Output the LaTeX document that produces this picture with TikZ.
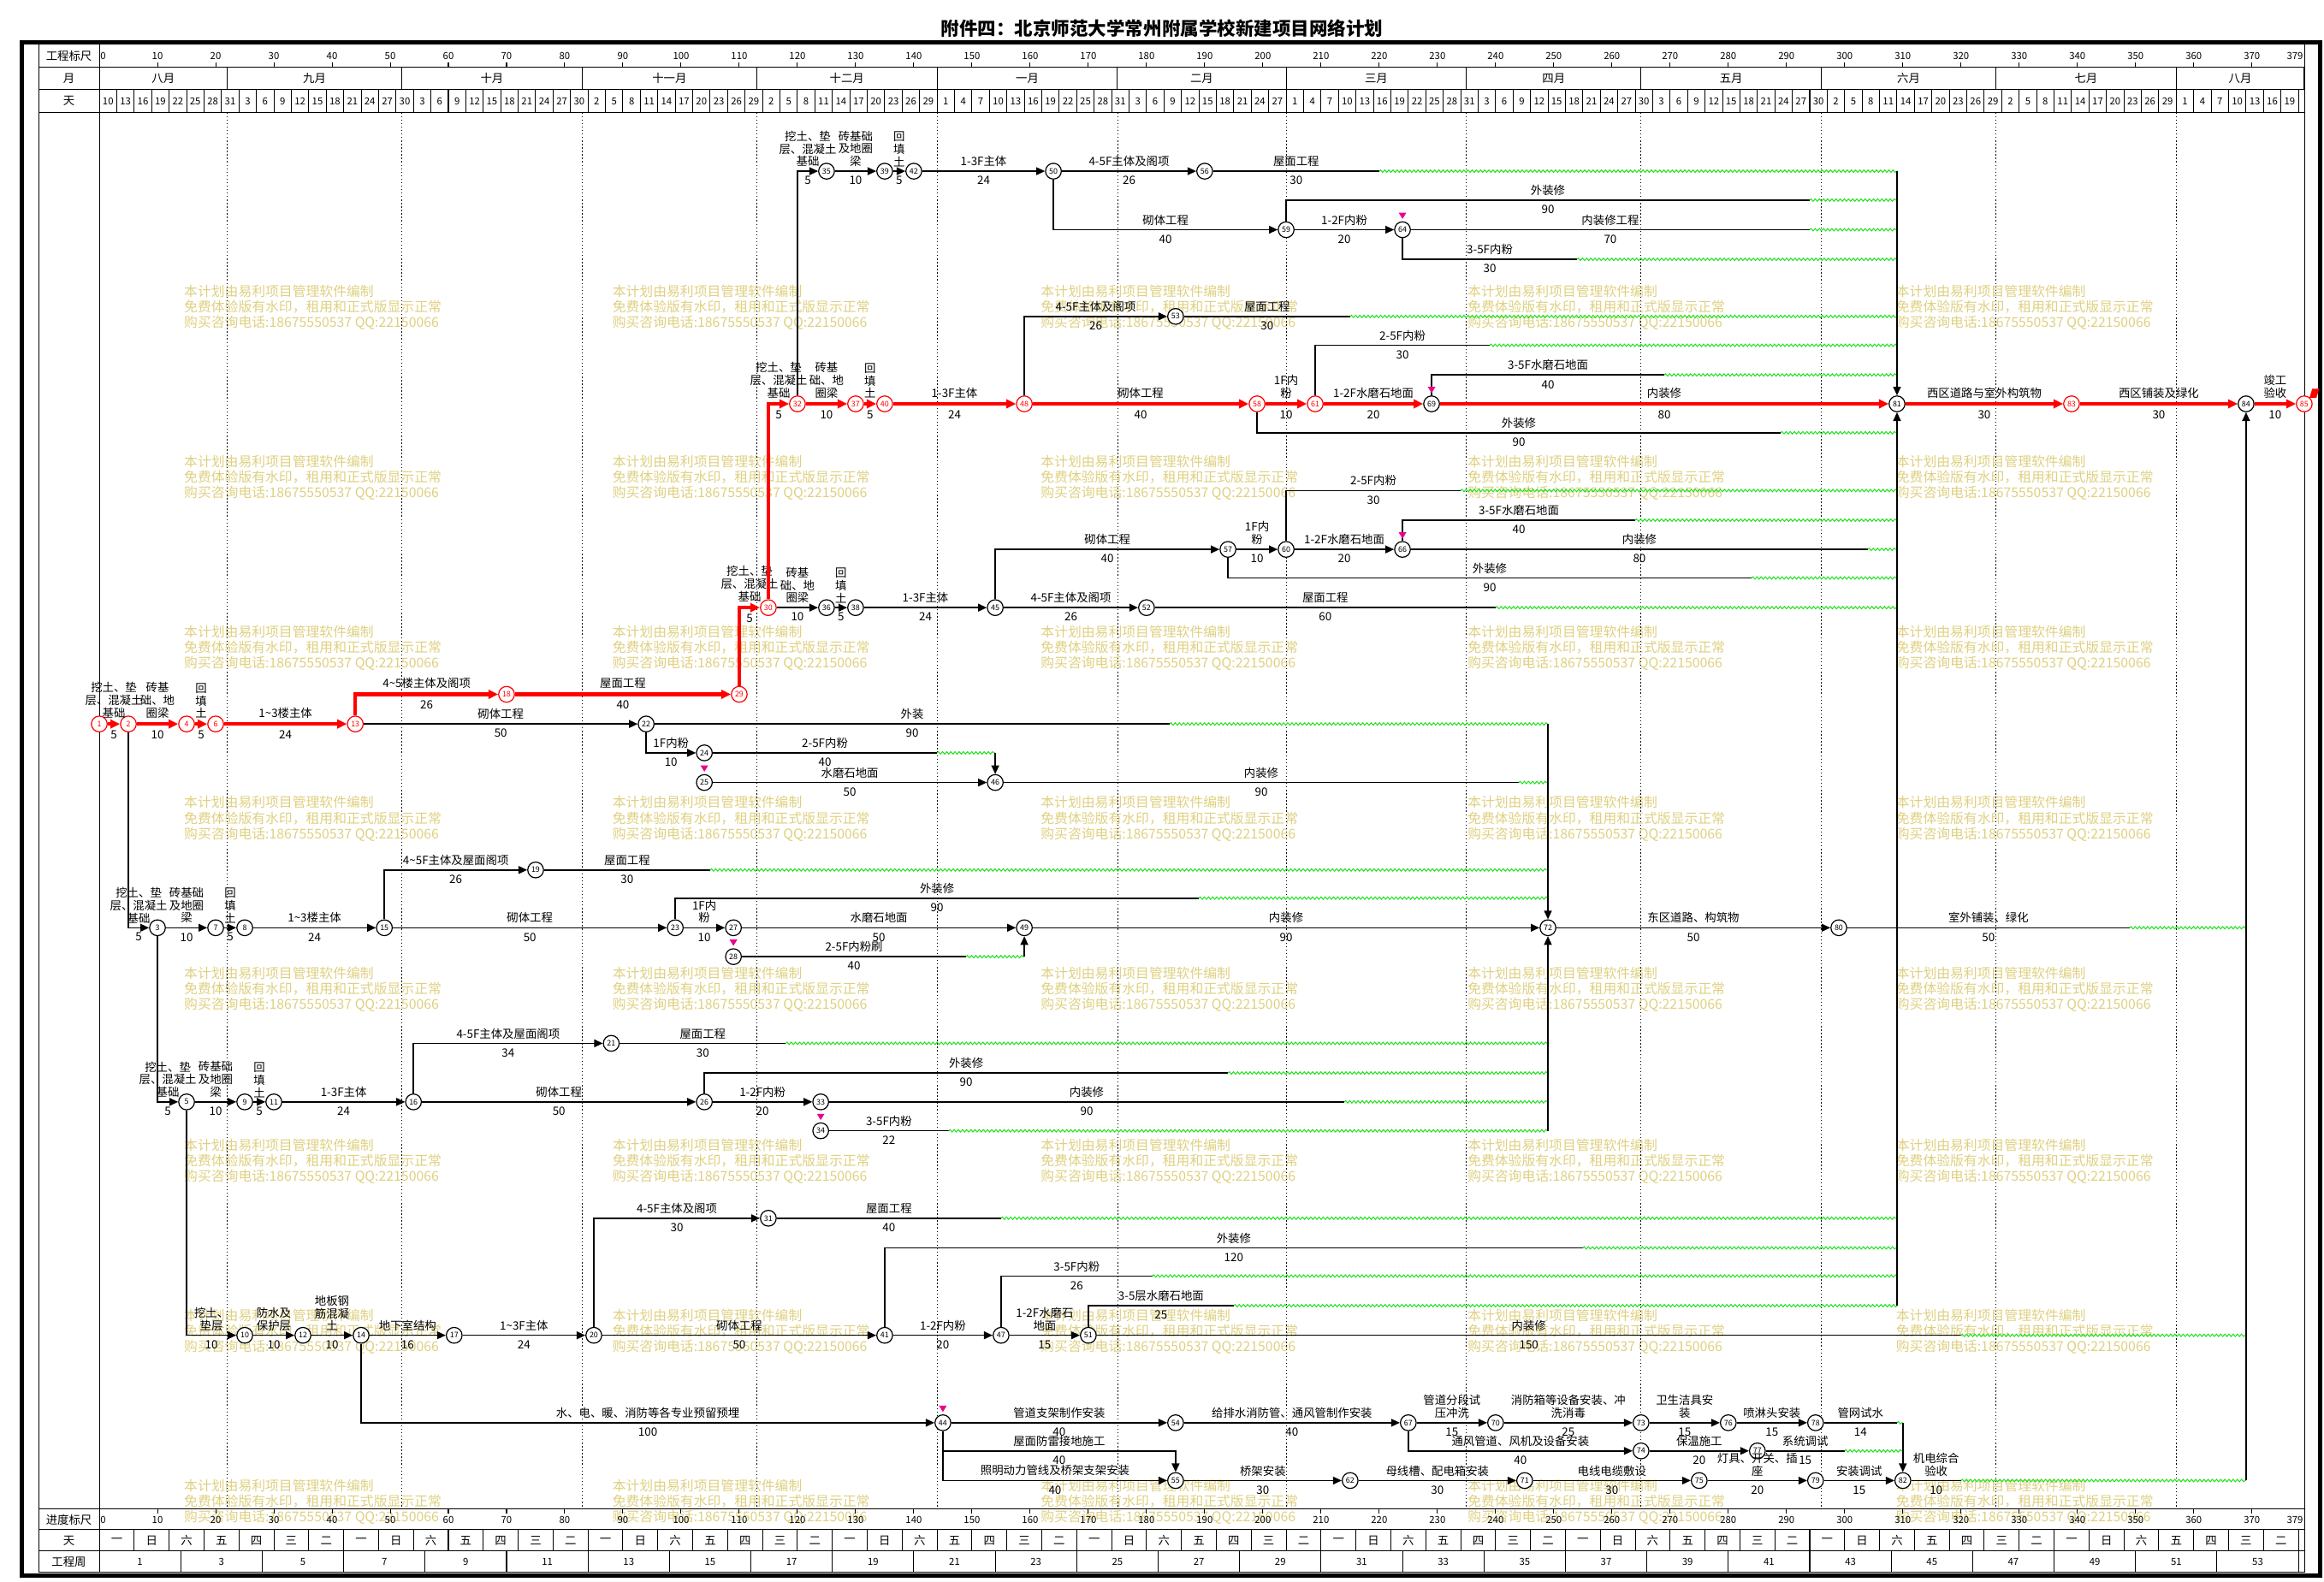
\documentclass[tikz,border=0pt]{standalone}
\usepackage{fontspec}
\setmainfont{Noto Sans CJK SC}
\usepackage{tikz}
\usetikzlibrary{arrows.meta}
\usetikzlibrary{decorations.pathmorphing}

\definecolor{wmyel}{RGB}{222,208,128}
\definecolor{fltgreen}{RGB}{30,225,30}
\definecolor{critred}{RGB}{255,0,0}

\newcommand{\ttlf}{\fontsize{10.6}{12}\selectfont\bfseries}
\newcommand{\lblf}{\fontsize{6.6}{7.3}\selectfont}
\newcommand{\numf}{\fontsize{5.6}{6}\selectfont}
\newcommand{\evf}{\fontsize{4.4}{5}\selectfont}
\newcommand{\wmf}{\fontsize{7.8}{8.9}\selectfont}
\newcommand{\wkday}[1]{\ifcase#1 一\or 日\or 六\or 五\or 四\or 三\or 二\fi}
\newcommand{\mkr}[1]{\fill[magenta] ([yshift=6.2pt]#1.center) -- ++(-2.2pt,3.6pt) -- ++(4.4pt,0pt) -- cycle;}

\tikzset{
  ev/.style={circle,draw=black,fill=white,line width=0.6pt,minimum size=0.32cm,inner sep=0pt,font=\evf},
  evr/.style={ev,draw=critred,text=critred},
  act/.style={line width=0.8pt,-{Triangle[length=5pt,width=4.4pt]}},
  actl/.style={line width=0.8pt},
  crit/.style={critred,line width=2.2pt,-{Triangle[length=5.5pt,width=5pt]}},
  flt/.style={fltgreen,line width=0.5pt,decorate,decoration={snake,amplitude=0.7pt,segment length=2.4pt}},
  nm/.style={above=2.2pt,inner sep=0pt,font=\lblf,align=center,text=black},
  du/.style={below=2.6pt,inner sep=0pt,font=\lblf,text=black},
  hd/.style={font=\lblf,inner sep=0pt},
  sc/.style={font=\numf,inner sep=0.5pt},
  tbl/.style={line width=0.5pt},
  mgrid/.style={line width=0.35pt,dash pattern=on 0.7pt off 1.3pt},
  wm/.style={anchor=north west,align=left,inner sep=0pt,font=\wmf,text=wmyel},
}

\begin{document}
\begin{tikzpicture}[x=0.03cm,y=-0.03cm]
\useasboundingbox (0,0) rectangle (1568,1067);

\node[font=\ttlf] (ttl) at (784,19) {附件四：北京师范大学常州附属学校新建项目网络计划};

\draw[line width=2.4pt] (14.5,28.5) rectangle (1565.5,1063);
\draw[tbl] (26,29) rectangle (1555,1061);
\foreach \yy in {45.5,60.5,76,1018,1032,1046.5}
  \draw[tbl] (26,\yy) -- (1555,\yy);
\draw[tbl] (67,29) -- (67,1061);
\node[hd] (hgc) at (46.5,37.5) {工程标尺};
\node[hd] (hyue) at (46.5,53) {月};
\node[hd] (htian) at (46.5,68.3) {天};
\node[hd] (hjd) at (46.5,1025.3) {进度标尺};
\node[hd] (hwk) at (46.5,1039.5) {天};
\node[hd] (hgz) at (46.5,1054) {工程周};

\foreach \wx in {124,413,702,990,1279}
  \foreach \wy in {192,307,422,537,652,768,883,998}
    \node[wm] at (\wx,\wy) {本计划由易利项目管理软件编制\\免费体验版有水印，租用和正式版显示正常\\购买咨询电话:18675550537 QQ:22150066};

\begin{scope}[shift={(67,0)},x=0.11775cm]
% time scale
\node[sc,anchor=west] at (0,37.5) {0};
\node[sc,anchor=west] at (0,1025.5) {0};
\foreach \d in {10,20,...,370} {
  \node[sc] at (\d,37.5) {\d};
  \draw[tbl] (\d,42) -- (\d,45.5);
  \node[sc] at (\d,1025.5) {\d};
  \draw[tbl] (\d,1018) -- (\d,1021.5);
}
\node[sc,anchor=east] at (379,37.5) {379};
\node[sc,anchor=east] at (379,1025.5) {379};
\foreach \a/\b/\m in {0/22/八月,22/52/九月,52/83/十月,83/113/十一月,113/144/十二月,144/175/一月,175/204/二月,204/235/三月,235/265/四月,265/296/五月,296/326/六月,326/357/七月,357/379/八月} {
  \node[hd] at ({(\a+\b)/2},53) {\m};
  \draw[tbl] (\b,45.5) -- (\b,60.5);
}
\foreach \b in {22,52,83,113,144,175,204,235,265,296,326,357}
  \draw[mgrid] (\b,76) -- (\b,1018);
\foreach \lab [count=\i from 0] in {10,13,16,19,22,25,28,31,3,6,9,12,15,18,21,24,27,30,3,6,9,12,15,18,21,24,27,30,2,5,8,11,14,17,20,23,26,29,2,5,8,11,14,17,20,23,26,29,1,4,7,10,13,16,19,22,25,28,31,3,6,9,12,15,18,21,24,27,1,4,7,10,13,16,19,22,25,28,31,3,6,9,12,15,18,21,24,27,30,3,6,9,12,15,18,21,24,27,30,2,5,8,11,14,17,20,23,26,29,2,5,8,11,14,17,20,23,26,29,1,4,7,10,13,16,19} {
  \node[sc] at ({3*\i+1.5},68.3) {\lab};
  \draw[tbl] ({3*\i+3},60.5) -- ({3*\i+3},76);
}
\foreach \i in {0,...,62} {
  \pgfmathtruncatemacro\wr{mod(\i,7)}
  \node[hd] at ({6*\i+3},1039.5) {\wkday{\wr}};
  \draw[tbl] ({6*\i+6},1032) -- ({6*\i+6},1046.5);
}
\foreach \j in {0,...,26} {
  \pgfmathtruncatemacro\wn{2*\j+1}
  \node[sc] at ({14*\j+7},1054) {\wn};
  \draw[tbl] ({14*\j+14},1046.5) -- ({14*\j+14},1061);
}

% events
\node[evr] (n1) at (0,488.5) {1};
\node[evr] (n2) at (5,488.5) {2};
\node[evr] (n4) at (15,488.5) {4};
\node[evr] (n6) at (20,488.5) {6};
\node[evr] (n13) at (44,488.5) {13};
\node[evr] (n18) at (70,468.5) {18};
\node[evr] (n29) at (110,468.5) {29};
\node[evr] (n30) at (115,410) {30};
\node[evr] (n32) at (120,272.5) {32};
\node[evr] (n37) at (130,272.5) {37};
\node[evr] (n40) at (135,272.5) {40};
\node[evr] (n48) at (159,272.5) {48};
\node[evr] (n58) at (199,272.5) {58};
\node[evr] (n61) at (209,272.5) {61};
\node[ev] (n69) at (229,272.5) {69};
\node[ev] (n81) at (309,272.5) {81};
\node[evr] (n83) at (339,272.5) {83};
\node[ev] (n84) at (369,272.5) {84};
\node[evr] (n85) at (379,272.5) {85};
\node[ev] (n35) at (125,115.5) {35};
\node[ev] (n39) at (135,115.5) {39};
\node[ev] (n42) at (140,115.5) {42};
\node[ev] (n50) at (164,115.5) {50};
\node[ev] (n56) at (190,115.5) {56};
\node[ev] (n59) at (204,155) {59};
\node[ev] (n64) at (224,155) {64};
\node[ev] (n53) at (185,213.5) {53};
\node[ev] (n36) at (125,410) {36};
\node[ev] (n38) at (130,410) {38};
\node[ev] (n45) at (154,410) {45};
\node[ev] (n52) at (180,410) {52};
\node[ev] (n57) at (194,370.7) {57};
\node[ev] (n60) at (204,370.7) {60};
\node[ev] (n66) at (224,370.7) {66};
\node[ev] (n22) at (94,488.5) {22};
\node[ev] (n24) at (104,508) {24};
\node[ev] (n25) at (104,528) {25};
\node[ev] (n46) at (154,528) {46};
\node[ev] (n3) at (10,626) {3};
\node[ev] (n7) at (20,626) {7};
\node[ev] (n8) at (25,626) {8};
\node[ev] (n15) at (49,626) {15};
\node[ev] (n19) at (75,587) {19};
\node[ev] (n23) at (99,626) {23};
\node[ev] (n27) at (109,626) {27};
\node[ev] (n28) at (109,645.5) {28};
\node[ev] (n49) at (159,626) {49};
\node[ev] (n72) at (249,626) {72};
\node[ev] (n80) at (299,626) {80};
\node[ev] (n5) at (15,743.5) {5};
\node[ev] (n9) at (25,743.5) {9};
\node[ev] (n11) at (30,743.5) {11};
\node[ev] (n16) at (54,743.5) {16};
\node[ev] (n21) at (88,704) {21};
\node[ev] (n26) at (104,743.5) {26};
\node[ev] (n33) at (124,743.5) {33};
\node[ev] (n34) at (124,763) {34};
\node[ev] (n10) at (25,901) {10};
\node[ev] (n12) at (35,901) {12};
\node[ev] (n14) at (45,901) {14};
\node[ev] (n17) at (61,901) {17};
\node[ev] (n20) at (85,901) {20};
\node[ev] (n31) at (115,822) {31};
\node[ev] (n41) at (135,901) {41};
\node[ev] (n47) at (155,901) {47};
\node[ev] (n51) at (170,901) {51};
\node[ev] (n44) at (145,960) {44};
\node[ev] (n54) at (185,960) {54};
\node[ev] (n67) at (225,960) {67};
\node[ev] (n70) at (240,960) {70};
\node[ev] (n73) at (265,960) {73};
\node[ev] (n76) at (280,960) {76};
\node[ev] (n78) at (295,960) {78};
\node[ev] (n74) at (265,979) {74};
\node[ev] (n77) at (285,979) {77};
\node[ev] (n55) at (185,999) {55};
\node[ev] (n62) at (215,999) {62};
\node[ev] (n71) at (245,999) {71};
\node[ev] (n75) at (275,999) {75};
\node[ev] (n79) at (295,999) {79};
\node[ev] (n82) at (310,999) {82};

\coordinate (k309) at (309,115.5);
\coordinate (k309b) at (309,881);
\coordinate (k249) at (249,488.5);
\coordinate (k249b) at (249,763);
\coordinate (k369) at (369,999);
\coordinate (k310) at (310,960);
\coordinate (c55) at (185,979);
\coordinate (s56) at (220,115.5);
\coordinate (s59) at (294,135);
\coordinate (s64a) at (294,155);
\coordinate (s64b) at (254,175);
\coordinate (s53) at (215,213.5);
\coordinate (s61) at (239,233);
\coordinate (s69) at (269,253);
\coordinate (s58) at (289,292);
\coordinate (s60) at (234,331);
\coordinate (s66a) at (264,351);
\coordinate (s66b) at (304,370.7);
\coordinate (s57) at (284,390);
\coordinate (s52) at (240,410);
\coordinate (s22) at (184,488.5);
\coordinate (s24) at (144,508);
\coordinate (s46) at (244,528);
\coordinate (s19) at (105,587);
\coordinate (s23) at (189,606);
\coordinate (s28) at (149,645.5);
\coordinate (s80) at (349,626);
\coordinate (s21) at (118,704);
\coordinate (s26) at (194,724);
\coordinate (s33) at (214,743.5);
\coordinate (s34) at (146,763);
\coordinate (s31) at (155,822);
\coordinate (s41) at (255,842);
\coordinate (s47) at (181,861);
\coordinate (s51b) at (195,881);
\coordinate (s51) at (320,901);
\coordinate (s78) at (309,960);
\coordinate (s77) at (300,979);
\coordinate (s82) at (320,999);

% critical path
\draw[crit] (n1) -- node[nm]{挖土、垫\\层、混凝土\\基础} node[du]{5} (n2);
\draw[crit] (n2) -- node[nm]{砖基\\础、地\\圈梁} node[du]{10} (n4);
\draw[crit] (n4) -- node[nm]{回\\填\\土} node[du]{5} (n6);
\draw[crit] (n6) -- node[nm]{1\textasciitilde3楼主体} node[du]{24} (n13);
\draw[crit] (n13) |- node[nm,pos=.75]{4\textasciitilde5楼主体及阁项} node[du,pos=.75]{26} (n18);
\draw[crit] (n18) -- node[nm]{屋面工程} node[du]{40} (n29);
\draw[crit] (n29) |- node[nm,pos=.75]{挖土、垫\\层、混凝土\\基础} node[du,pos=.75]{5} (n30);
\draw[crit] (n30) |- node[nm,pos=.75]{挖土、垫\\层、混凝土\\基础} node[du,pos=.75]{5} (n32);
\draw[crit] (n32) -- node[nm]{砖基\\础、地\\圈梁} node[du]{10} (n37);
\draw[crit] (n37) -- node[nm]{回\\填\\土} node[du]{5} (n40);
\draw[crit] (n40) -- node[nm]{1-3F主体} node[du]{24} (n48);
\draw[crit] (n48) -- node[nm]{砌体工程} node[du]{40} (n58);
\draw[crit] (n58) -- node[nm]{1F内\\粉} node[du]{10} (n61);
\draw[crit] (n61) -- node[nm]{1-2F水磨石地面} node[du]{20} (n69);
\draw[crit] (n69) -- node[nm]{内装修} node[du]{80} (n81);
\draw[crit] (n81) -- node[nm]{西区道路与室外构筑物} node[du]{30} (n83);
\draw[crit] (n83) -- node[nm]{西区铺装及绿化} node[du]{30} (n84);
\draw[crit] (n84) -- node[nm]{竣工\\验收} node[du]{10} (n85);
\fill[critred] ([shift={(3pt,3.5pt)}]n85.center) -- ++(1.6pt,5.2pt) -- ++(4pt,0pt) -- ++(-1.6pt,-5.2pt) -- cycle;

% top block
\draw[act] (n32) |- node[nm,pos=.75]{挖土、垫\\层、混凝土\\基础} node[du,pos=.75]{5} (n35);
\draw[act] (n35) -- node[nm]{砖基础\\及地圈\\梁} node[du]{10} (n39);
\draw[act] (n39) -- node[nm]{回\\填\\土} node[du]{5} (n42);
\draw[act] (n42) -- node[nm]{1-3F主体} node[du]{24} (n50);
\draw[act] (n50) -- node[nm]{4-5F主体及阁项} node[du]{26} (n56);
\draw[actl] (n56) -- node[nm]{屋面工程} node[du]{30} (s56);
\draw[flt] (s56) -- (k309);
\draw[act] (n50) |- node[nm,pos=.75]{砌体工程} node[du,pos=.75]{40} (n59);
\draw[act] (n59) -- node[nm]{1-2F内粉} node[du]{20} (n64);
\draw[actl] (n59) |- node[nm,pos=.75]{外装修} node[du,pos=.75]{90} (s59);
\draw[flt] (s59) -- (s59 -| k309);
\draw[actl] (n64) -- node[nm]{内装修工程} node[du]{70} (s64a);
\draw[flt] (s64a) -- (s64a -| k309);
\draw[actl] (n64) |- node[nm,pos=.75]{3-5F内粉} node[du,pos=.75]{30} (s64b);
\draw[flt] (s64b) -- (s64b -| k309);
\draw[act] (n48) |- node[nm,pos=.75]{4-5F主体及阁项} node[du,pos=.75]{26} (n53);
\draw[actl] (n53) -- node[nm]{屋面工程} node[du]{30} (s53);
\draw[flt] (s53) -- (s53 -| k309);
\draw[actl] (n61) |- node[nm,pos=.75]{2-5F内粉} node[du,pos=.75]{30} (s61);
\draw[flt] (s61) -- (s61 -| k309);
\draw[actl] (n69) |- node[nm,pos=.75]{3-5F水磨石地面} node[du,pos=.75]{40} (s69);
\draw[flt] (s69) -- (s69 -| k309);
\draw[actl] (n58) |- node[nm,pos=.75]{外装修} node[du,pos=.75]{90} (s58);
\draw[flt] (s58) -- (s58 -| k309);

% block from 30
\draw[act] (n30) -- node[nm]{砖基\\础、地\\圈梁} node[du]{10} (n36);
\draw[act] (n36) -- node[nm]{回\\填\\土} node[du]{5} (n38);
\draw[act] (n38) -- node[nm]{1-3F主体} node[du]{24} (n45);
\draw[act] (n45) -- node[nm]{4-5F主体及阁项} node[du]{26} (n52);
\draw[actl] (n52) -- node[nm]{屋面工程} node[du]{60} (s52);
\draw[flt] (s52) -- (s52 -| k309);
\draw[act] (n45) |- node[nm,pos=.75]{砌体工程} node[du,pos=.75]{40} (n57);
\draw[act] (n57) -- node[nm]{1F内\\粉} node[du]{10} (n60);
\draw[actl] (n57) |- node[nm,pos=.75]{外装修} node[du,pos=.75]{90} (s57);
\draw[flt] (s57) -- (s57 -| k309);
\draw[act] (n60) -- node[nm]{1-2F水磨石地面} node[du]{20} (n66);
\draw[actl] (n60) |- node[nm,pos=.75]{2-5F内粉} node[du,pos=.75]{30} (s60);
\draw[flt] (s60) -- (s60 -| k309);
\draw[actl] (n66) |- node[nm,pos=.75]{3-5F水磨石地面} node[du,pos=.75]{40} (s66a);
\draw[flt] (s66a) -- (s66a -| k309);
\draw[actl] (n66) -- node[nm]{内装修} node[du]{80} (s66b);
\draw[flt] (s66b) -- (s66b -| k309);

% block from 13
\draw[act] (n13) -- node[nm]{砌体工程} node[du]{50} (n22);
\draw[actl] (n22) -- node[nm]{外装} node[du]{90} (s22);
\draw[flt] (s22) -- (k249);
\draw[act] (n22) |- node[nm,pos=.75]{1F内粉} node[du,pos=.75]{10} (n24);
\draw[actl] (n24) -- node[nm]{2-5F内粉} node[du]{40} (s24);
\draw[flt] (s24) -- (s24 -| n46);
\draw[act] (s24 -| n46) -- (n46);
\draw[act] (n25) -- node[nm]{水磨石地面} node[du]{50} (n46);
\draw[actl] (n46) -- node[nm]{内装修} node[du]{90} (s46);
\draw[flt] (s46) -- (s46 -| k249);

% block from 3
\draw[act] (n2) |- node[nm,pos=.75]{挖土、垫\\层、混凝土\\基础} node[du,pos=.75]{5} (n3);
\draw[act] (n3) -- node[nm]{砖基础\\及地圈\\梁} node[du]{10} (n7);
\draw[act] (n7) -- node[nm]{回\\填\\土} node[du]{5} (n8);
\draw[act] (n8) -- node[nm]{1\textasciitilde3楼主体} node[du]{24} (n15);
\draw[act] (n15) -- node[nm]{砌体工程} node[du]{50} (n23);
\draw[act] (n15) |- node[nm,pos=.75]{4\textasciitilde5F主体及屋面阁项} node[du,pos=.75]{26} (n19);
\draw[actl] (n19) -- node[nm]{屋面工程} node[du]{30} (s19);
\draw[flt] (s19) -- (s19 -| k249);
\draw[act] (n23) -- node[nm]{1F内\\粉} node[du]{10} (n27);
\draw[actl] (n23) |- node[nm,pos=.75]{外装修} node[du,pos=.75]{90} (s23);
\draw[flt] (s23) -- (s23 -| k249);
\draw[act] (n27) -- node[nm]{水磨石地面} node[du]{50} (n49);
\draw[actl] (n28) -- node[nm]{2-5F内粉刷} node[du]{40} (s28);
\draw[flt] (s28) -- (s28 -| n49);
\draw[act] (s28 -| n49) -- (n49);
\draw[act] (n49) -- node[nm]{内装修} node[du]{90} (n72);
\draw[act] (n72) -- node[nm]{东区道路、构筑物} node[du]{50} (n80);
\draw[actl] (n80) -- node[nm]{室外铺装、绿化} node[du]{50} (s80);
\draw[flt] (s80) -- (s80 -| k369);

% block from 5
\draw[act] (n3) |- node[nm,pos=.75]{挖土、垫\\层、混凝土\\基础} node[du,pos=.75]{5} (n5);
\draw[act] (n5) -- node[nm]{砖基础\\及地圈\\梁} node[du]{10} (n9);
\draw[act] (n9) -- node[nm]{回\\填\\土} node[du]{5} (n11);
\draw[act] (n11) -- node[nm]{1-3F主体} node[du]{24} (n16);
\draw[act] (n16) -- node[nm]{砌体工程} node[du]{50} (n26);
\draw[act] (n16) |- node[nm,pos=.75]{4-5F主体及屋面阁项} node[du,pos=.75]{34} (n21);
\draw[actl] (n21) -- node[nm]{屋面工程} node[du]{30} (s21);
\draw[flt] (s21) -- (s21 -| k249);
\draw[act] (n26) -- node[nm]{1-2F内粉} node[du]{20} (n33);
\draw[actl] (n26) |- node[nm,pos=.75]{外装修} node[du,pos=.75]{90} (s26);
\draw[flt] (s26) -- (s26 -| k249);
\draw[actl] (n33) -- node[nm]{内装修} node[du]{90} (s33);
\draw[flt] (s33) -- (s33 -| k249);
\draw[actl] (n34) -- node[nm]{3-5F内粉} node[du]{22} (s34);
\draw[flt] (s34) -- (k249b);

% basement block
\draw[act] (n5) |- node[nm,pos=.75]{挖土、\\垫层} node[du,pos=.75]{10} (n10);
\draw[act] (n10) -- node[nm]{防水及\\保护层} node[du]{10} (n12);
\draw[act] (n12) -- node[nm]{地板钢\\筋混凝\\土} node[du]{10} (n14);
\draw[act] (n14) -- node[nm]{地下室结构} node[du]{16} (n17);
\draw[act] (n17) -- node[nm]{1\textasciitilde3F主体} node[du]{24} (n20);
\draw[act] (n20) -- node[nm]{砌体工程} node[du]{50} (n41);
\draw[act] (n20) |- node[nm,pos=.75]{4-5F主体及阁项} node[du,pos=.75]{30} (n31);
\draw[actl] (n31) -- node[nm]{屋面工程} node[du]{40} (s31);
\draw[flt] (s31) -- (s31 -| k309);
\draw[act] (n41) -- node[nm]{1-2F内粉} node[du]{20} (n47);
\draw[actl] (n41) |- node[nm,pos=.75]{外装修} node[du,pos=.75]{120} (s41);
\draw[flt] (s41) -- (s41 -| k309);
\draw[act] (n47) -- node[nm]{1-2F水磨石\\地面} node[du]{15} (n51);
\draw[actl] (n47) |- node[nm,pos=.75]{3-5F内粉} node[du,pos=.75]{26} (s47);
\draw[flt] (s47) -- (s47 -| k309);
\draw[actl] (n51) |- node[nm,pos=.75]{3-5层水磨石地面} node[du,pos=.75]{25} (s51b);
\draw[flt] (s51b) -- (k309b);
\draw[actl] (n51) -- node[nm]{内装修} node[du]{150} (s51);
\draw[flt] (s51) -- (s51 -| k369);

% services block
\draw[act] (n14) |- node[nm,pos=.75]{水、电、暖、消防等各专业预留预埋} node[du,pos=.75]{100} (n44);
\draw[act] (n44) -- node[nm]{管道支架制作安装} node[du]{40} (n54);
\draw[act] (n54) -- node[nm]{给排水消防管、通风管制作安装} node[du]{40} (n67);
\draw[act] (n67) -- node[nm]{管道分段试\\压冲洗} node[du]{15} (n70);
\draw[act] (n70) -- node[nm]{消防箱等设备安装、冲\\洗消毒} node[du]{25} (n73);
\draw[act] (n73) -- node[nm]{卫生洁具安\\装} node[du]{15} (n76);
\draw[act] (n76) -- node[nm]{喷淋头安装} node[du]{15} (n78);
\draw[actl] (n78) -- node[nm]{管网试水} node[du]{14} (s78);
\draw[flt] (s78) -- (k310);
\draw[act] (n67) |- node[nm,pos=.75]{通风管道、风机及设备安装} node[du,pos=.75]{40} (n74);
\draw[act] (n74) -- node[nm]{保温施工} node[du]{20} (n77);
\draw[actl] (n77) -- node[nm]{系统调试} node[du]{15} (s77);
\draw[flt] (s77) -- (s77 -| k310);
\draw[act] (n44) |- node[nm,pos=.75]{屋面防雷接地施工} node[du,pos=.75]{40} (c55) -- (n55);
\draw[act] (n44) |- node[nm,pos=.75]{照明动力管线及桥架支架安装} node[du,pos=.75]{40} (n55);
\draw[act] (n55) -- node[nm]{桥架安装} node[du]{30} (n62);
\draw[act] (n62) -- node[nm]{母线槽、配电箱安装} node[du]{30} (n71);
\draw[act] (n71) -- node[nm]{电线电缆敷设} node[du]{30} (n75);
\draw[act] (n75) -- node[nm]{灯具、开关、插\\座} node[du]{20} (n79);
\draw[act] (n79) -- node[nm]{安装调试} node[du]{15} (n82);
\draw[actl] (n82) -- node[nm]{机电综合\\验收} node[du]{10} (s82);
\draw[flt] (s82) -- (k369);

% collectors
\draw[act] (k309) -- (n81);
\draw[act] (k309b) -- (n81);
\draw[act] (k249) -- (n72);
\draw[act] (k249b) -- (n72);
\draw[act] (k369) -- (n84);
\draw[act] (k310) -- (n82);

\mkr{n64}
\mkr{n69}
\mkr{n66}
\mkr{n25}
\mkr{n28}
\mkr{n34}
\mkr{n44}
\end{scope}
\end{tikzpicture}
\end{document}
